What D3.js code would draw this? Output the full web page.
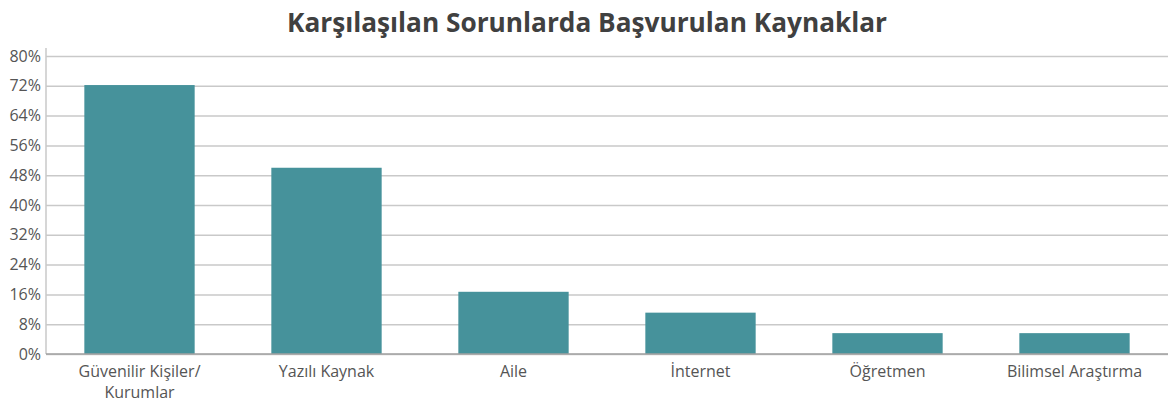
<!DOCTYPE html>
<html><head><meta charset="utf-8">
<script src="https://cdn.jsdelivr.net/npm/d3@7"></script>
<style>body{margin:0;background:#fff;} svg{display:block;font-family:"Open Sans","Noto Sans",sans-serif;}</style>
</head><body>
<svg id="c" width="1171" height="405"></svg>
<script>
const title = "Karşılaşılan Sorunlarda Başvurulan Kaynaklar";
const categories = ["Güvenilir Kişiler/\nKurumlar","Yazılı Kaynak","Aile","İnternet","Öğretmen","Bilimsel Araştırma"];
const values = [72.2, 50.0, 16.7, 11.1, 5.6, 5.6];
const yTicks = [0,8,16,24,32,40,48,56,64,72,80];

const svg = d3.select("#c");
const m = {left:46, right:3, top:56, bottom:51};
const W = 1171, H = 405;
const x = d3.scaleBand().domain(categories).range([m.left, W - m.right]).paddingInner(0.41).paddingOuter(0.205);
const y = d3.scaleLinear().domain([0,80]).range([H - m.bottom, m.top]);

svg.append("text").attr("x", 587).attr("y", 32).attr("text-anchor","middle")
  .attr("font-size", 26).attr("font-weight", 700).attr("fill", "#404040")
  .attr("textLength", 600).attr("lengthAdjust", "spacingAndGlyphs").text(title);

// gridlines
const grid = svg.append("g").attr("transform", `translate(${m.left},0)`)
  .call(d3.axisLeft(y).tickValues(yTicks).tickSize(-(W - m.right - m.left)).tickFormat(""));
grid.select(".domain").remove();
grid.selectAll("line").attr("stroke", "#c9c9c9").attr("stroke-width", 1.5);

// y axis labels
const ya = svg.append("g").attr("transform", `translate(${m.left},0)`)
  .call(d3.axisLeft(y).tickValues(yTicks).tickSize(0).tickPadding(5).tickFormat(d => d + "%"));
ya.select(".domain").remove();
ya.selectAll("text").attr("font-size", 16).attr("fill", "#555").attr("font-family", "Open Sans, sans-serif");
svg.append("line").attr("x1", m.left).attr("x2", m.left).attr("y1", m.top - 8).attr("y2", y(0))
  .attr("stroke", "#c9c9c9").attr("stroke-width", 1.5);

// bars
svg.append("g").selectAll("rect").data(values).join("rect")
  .attr("x", (d,i) => x(categories[i])).attr("width", x.bandwidth())
  .attr("y", d => y(d)).attr("height", d => y(0) - y(d))
  .attr("fill", "#46929b");

// baseline
svg.append("line").attr("x1", m.left).attr("x2", W - m.right).attr("y1", y(0)).attr("y2", y(0))
  .attr("stroke", "#a0a0a0").attr("stroke-width", 1.5);

// x axis labels
const xa = svg.append("g").attr("transform", `translate(0,${y(0)})`)
  .call(d3.axisBottom(x).tickSize(0).tickPadding(0));
xa.select(".domain").remove();
xa.selectAll("text").each(function(d){
  const t = d3.select(this).text("").attr("font-size", 16).attr("fill", "#555")
    .attr("font-family", "Open Sans, sans-serif").attr("dy", null).attr("y", 0);
  d.split("\n").forEach((line, k) => {
    t.append("tspan").attr("x", 0).attr("y", 23 + k * 21).text(line);
  });
});
</script>
</body></html>
